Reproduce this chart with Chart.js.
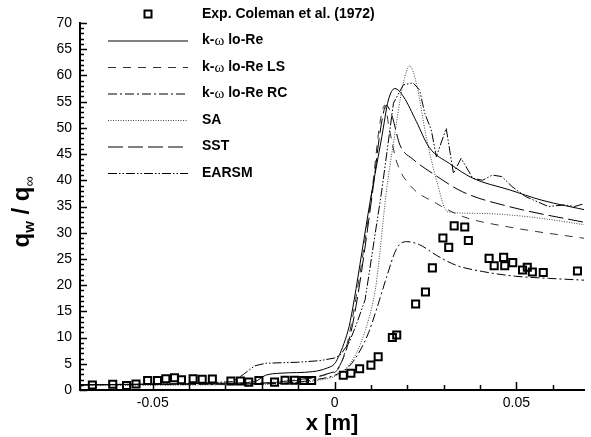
<!DOCTYPE html>
<html>
<head>
<meta charset="utf-8">
<script src="https://cdn.jsdelivr.net/npm/chart.js@4.4.0/dist/chart.umd.min.js"></script>
<style>
  html, body { margin: 0; padding: 0; background: #fff; }
</style>
</head>
<body>
<canvas id="heat_flux" width="591" height="437"></canvas>
<script>

// ---------------- dati ----------------
var expX = [-0.0666, -0.061, -0.0572, -0.0546, -0.0514, -0.0487, -0.0464, -0.044, -0.0421, -0.0389, -0.0364, -0.0336, -0.0285, -0.0259, -0.0236, -0.0208, -0.0165, -0.0136, -0.011, -0.0085, -0.0063, 0.0024, 0.0045, 0.0069, 0.010, 0.012, 0.0159, 0.0171, 0.0223, 0.025, 0.0269, 0.0298, 0.0314, 0.0329, 0.0358, 0.0368, 0.0425, 0.0439, 0.0465, 0.0468, 0.049, 0.0517, 0.053, 0.0544, 0.0574, 0.0668];
var expY = [0.95, 1.1, 0.85, 1.15, 1.8, 1.8, 2.15, 2.35, 1.95, 2.15, 2.05, 2.1, 1.7, 1.7, 1.5, 1.8, 1.5, 1.85, 1.85, 1.8, 1.8, 2.8, 3.2, 4.05, 4.75, 6.35, 10.0, 10.5, 16.4, 18.7, 23.3, 29.0, 27.2, 31.3, 31.1, 28.5, 25.1, 23.7, 25.3, 23.7, 24.3, 22.9, 23.4, 22.5, 22.4, 22.7];

var kwX = [-0.07, -0.05, -0.03, -0.022, -0.019, -0.015, -0.006, -0.002, 0.0, 0.001, 0.0026, 0.004, 0.0054, 0.0075, 0.0098, 0.013, 0.0148, 0.0166, 0.019, 0.0225, 0.026, 0.0316, 0.038, 0.048, 0.057, 0.07];
var kwY = [1.0, 1.1, 1.3, 1.6, 2.8, 3.2, 3.5, 4.2, 5.0, 6.2, 8.9, 12.1, 17.2, 26.2, 36.0, 48.3, 55.3, 57.5, 55.9, 51.2, 46.3, 43.2, 40.4, 38.2, 36.2, 34.2];

var lsX = [-0.07, -0.04, -0.02, -0.012, -0.006, -0.002, 0.001, 0.0035, 0.0058, 0.0103, 0.0125, 0.0138, 0.015, 0.0171, 0.0207, 0.028, 0.0352, 0.0479, 0.07];
var lsY = [1.0, 1.1, 1.3, 1.7, 2.3, 3.0, 4.0, 8.9, 17.2, 38.0, 51.0, 54.3, 50.0, 43.5, 39.1, 35.6, 33.1, 31.1, 28.8];

var rcX = [-0.07, -0.03, -0.012, -0.005, 0.0, 0.004, 0.007, 0.0094, 0.0116, 0.0143, 0.0171, 0.0198, 0.0234, 0.028, 0.0334, 0.0407, 0.0497, 0.0588, 0.07];
var rcY = [1.0, 1.1, 1.4, 2.0, 2.8, 4.5, 7.5, 11.0, 15.5, 21.5, 27.0, 28.3, 27.7, 25.7, 23.8, 22.6, 21.7, 21.3, 20.9];

var saX = [-0.07, -0.03, -0.012, -0.005, 0.0, 0.003, 0.006, 0.0085, 0.0107, 0.0116, 0.0143, 0.0162, 0.0189, 0.0207, 0.0225, 0.0252, 0.028, 0.0311, 0.0388, 0.0525, 0.07];
var saY = [0.9, 1.0, 1.3, 1.8, 2.6, 4.0, 7.0, 11.5, 17.2, 21.0, 38.1, 47.1, 58.5, 61.8, 58.5, 48.3, 40.1, 34.0, 33.7, 33.1, 31.4];

var sstX = [-0.07, -0.04, -0.02, -0.012, -0.006, -0.002, 0.001, 0.0038, 0.0062, 0.0105, 0.0127, 0.0142, 0.0157, 0.018, 0.0216, 0.027, 0.0352, 0.0479, 0.07];
var sstY = [1.0, 1.1, 1.3, 1.8, 2.4, 3.1, 4.2, 9.0, 17.2, 38.0, 50.0, 54.3, 52.5, 46.7, 44.0, 41.3, 37.8, 35.0, 31.8];

var earsmX = [-0.07, -0.04, -0.028, -0.025, -0.022, -0.019, -0.01, -0.004, 0.0, 0.0015, 0.004, 0.006, 0.0084, 0.013, 0.0162, 0.0189, 0.0216, 0.0234, 0.0248, 0.0266, 0.028, 0.0307, 0.0327, 0.0348, 0.038, 0.0407, 0.0434, 0.046, 0.0488, 0.0525, 0.0588, 0.0633, 0.066, 0.07];
var earsmY = [1.0, 1.2, 1.6, 3.0, 4.6, 5.1, 5.3, 5.6, 6.1, 6.6, 9.0, 12.5, 17.2, 38.1, 54.7, 58.2, 58.6, 57.2, 52.8, 49.6, 44.5, 49.9, 41.3, 44.2, 40.4, 40.0, 41.0, 40.7, 38.8, 36.9, 35.0, 35.3, 35.0, 35.8];

var legendLabels = ["Exp. Coleman et al. (1972)", "k-ω lo-Re", "k-ω lo-Re LS", "k-ω lo-Re RC", "SA", "SST", "EARSM"];

var xMajor = [-0.05, 0, 0.05];
var xTickLabels = ["-0.05", "0", "0.05"];
var yMajor = [0, 5, 10, 15, 20, 25, 30, 35, 40, 45, 50, 55, 60, 65, 70];

var FONT = "'Liberation Sans', Arial, Helvetica, sans-serif";

//funzione per unire x e y in punti
function toPoints(xs, ys) {
  var pts = [];
  for (var i = 0; i < xs.length; i++) {
    pts.push({ x: xs[i], y: ys[i] });
  }
  return pts;
}

function lineSet(label, xs, ys, dash, color, sharp) {
  var ds = {
    label: label,
    data: toPoints(xs, ys),
    showLine: true,
    borderColor: color || "#000",
    borderWidth: 1,
    borderDash: dash,
    pointRadius: 0,
    fill: false
  };
  if (sharp) {
    ds.tension = 0;
  } else {
    ds.cubicInterpolationMode = "monotone";
  }
  return ds;
}

//testo con la omega in carattere serif
function drawMixed(ctx, text, x, y) {
  var parts = text.split("ω");
  ctx.textBaseline = "middle";
  ctx.textAlign = "left";
  for (var i = 0; i < parts.length; i++) {
    ctx.font = "bold 14px " + FONT;
    ctx.fillText(parts[i], x, y);
    x += ctx.measureText(parts[i]).width;
    if (i < parts.length - 1) {
      ctx.font = "15px 'Liberation Serif', 'Times New Roman', serif";
      ctx.fillText("ω", x, y + 1);
      x += ctx.measureText("ω").width;
    }
  }
}

//legenda disegnata a mano in alto
var legendPlugin = {
  id: "stackLegend",
  afterDraw: function(chart) {
    var ctx = chart.ctx;
    ctx.save();
    ctx.fillStyle = "#000";
    for (var i = 0; i < legendLabels.length; i++) {
      var ds = chart.data.datasets[i];
      var y = 14 + i * 26.5;
      if (!ds.showLine) {
        ctx.lineWidth = 2;
        ctx.strokeStyle = "#000";
        ctx.strokeRect(144.5, y - 3.5, 7, 7);
      } else {
        ctx.setLineDash(ds.borderDash || []);
        ctx.strokeStyle = ds.borderColor;
        ctx.lineWidth = 1;
        ctx.beginPath();
        ctx.moveTo(108, y + 0.5);
        ctx.lineTo(188, y + 0.5);
        ctx.stroke();
        ctx.setLineDash([]);
      }
      drawMixed(ctx, legendLabels[i], 202, y);
    }
    ctx.restore();
  }
};

//tacche verso l'interno e titolo asse y
var axisPlugin = {
  id: "innerTicks",
  afterDraw: function(chart) {
    var ctx = chart.ctx;
    var xs = chart.scales.x;
    var ys = chart.scales.y;
    var area = chart.chartArea;
    ctx.save();
    ctx.strokeStyle = "#000";
    ctx.lineWidth = 1.5;
    ctx.beginPath();
    for (var v = 0; v <= 70; v++) {
      var py = Math.round(ys.getPixelForValue(v)) + 0.5;
      var len = (v % 5 === 0) ? 7 : 4;
      ctx.moveTo(area.left, py);
      ctx.lineTo(area.left + len, py);
    }
    for (var k = -7; k <= 6; k++) {
      var px = Math.round(xs.getPixelForValue(k / 100)) + 0.5;
      var lenx = (k % 5 === 0) ? 8 : 5;
      ctx.moveTo(px, area.bottom);
      ctx.lineTo(px, area.bottom - lenx);
    }
    ctx.stroke();

    // titolo asse y: q_w / q_inf
    ctx.translate(29, 212);
    ctx.rotate(-Math.PI / 2);
    ctx.fillStyle = "#000";
    ctx.textBaseline = "alphabetic";
    ctx.textAlign = "left";
    var pieces = [
      { t: "q", f: "bold 24px " + FONT, dy: 0 },
      { t: "w", f: "bold 15px " + FONT, dy: 5 },
      { t: " / ", f: "bold 24px " + FONT, dy: 0 },
      { t: "q", f: "bold 24px " + FONT, dy: 0 },
      { t: "∞", f: "14px " + FONT, dy: 5 }
    ];
    var total = 0;
    pieces.forEach(function(p) { ctx.font = p.f; p.w = ctx.measureText(p.t).width; total += p.w; });
    var cx = -total / 2;
    pieces.forEach(function(p) {
      ctx.font = p.f;
      ctx.fillText(p.t, cx, p.dy);
      cx += p.w;
    });
    ctx.restore();
  }
};

var ctx = document.getElementById("heat_flux");
var heatChart = new Chart(ctx, {
  type: "scatter",
  data: {
    datasets: [
      {
        label: legendLabels[0],
        data: toPoints(expX, expY),
        showLine: false,
        pointStyle: "rect",
        pointRadius: 5,
        borderColor: "#000",
        borderWidth: 2,
        backgroundColor: "rgba(0,0,0,0)"
      },
      lineSet(legendLabels[1], kwX, kwY, []),
      lineSet(legendLabels[2], lsX, lsY, [8, 7], "#333"),
      lineSet(legendLabels[3], rcX, rcY, [9, 3, 2, 3]),
      lineSet(legendLabels[4], saX, saY, [1, 1.5], "#444"),
      lineSet(legendLabels[5], sstX, sstY, [15, 5]),
      lineSet(legendLabels[6], earsmX, earsmY, [9, 2, 1.5, 2, 1.5, 2], "#000", true)
    ]
  },
  options: {
    responsive: false,
    animation: false,
    layout: { padding: { top: 23, right: 0, bottom: 0, left: 0 } },
    plugins: {
      legend: { display: false },
      tooltip: { enabled: false }
    },
    scales: {
      x: {
        type: "linear",
        min: -0.07,
        max: 0.0686,
        grid: { display: false, drawTicks: false },
        border: { display: true, color: "#000", width: 2 },
        afterBuildTicks: function(axis) {
          axis.ticks = xMajor.map(function(v) { return { value: v }; });
        },
        afterFit: function(axis) { axis.height = 47; },
        title: {
          display: true,
          text: "x [m]",
          color: "#000",
          font: { family: FONT, size: 22, weight: "bold" },
          padding: { top: 2, bottom: 0 }
        },
        ticks: {
          color: "#000",
          padding: 5,
          maxRotation: 0,
          autoSkip: false,
          font: { family: FONT, size: 14 },
          callback: function(value, index) { return xTickLabels[index]; }
        }
      },
      y: {
        type: "linear",
        min: 0,
        max: 70,
        grid: { display: false, drawTicks: false },
        border: { display: true, color: "#000", width: 2 },
        afterBuildTicks: function(axis) {
          axis.ticks = yMajor.map(function(v) { return { value: v }; });
        },
        afterFit: function(axis) { axis.width = 80; },
        ticks: {
          color: "#000",
          padding: 8,
          autoSkip: false,
          font: { family: FONT, size: 14 }
        }
      }
    }
  },
  plugins: [legendPlugin, axisPlugin]
});

</script>
</body>
</html>
